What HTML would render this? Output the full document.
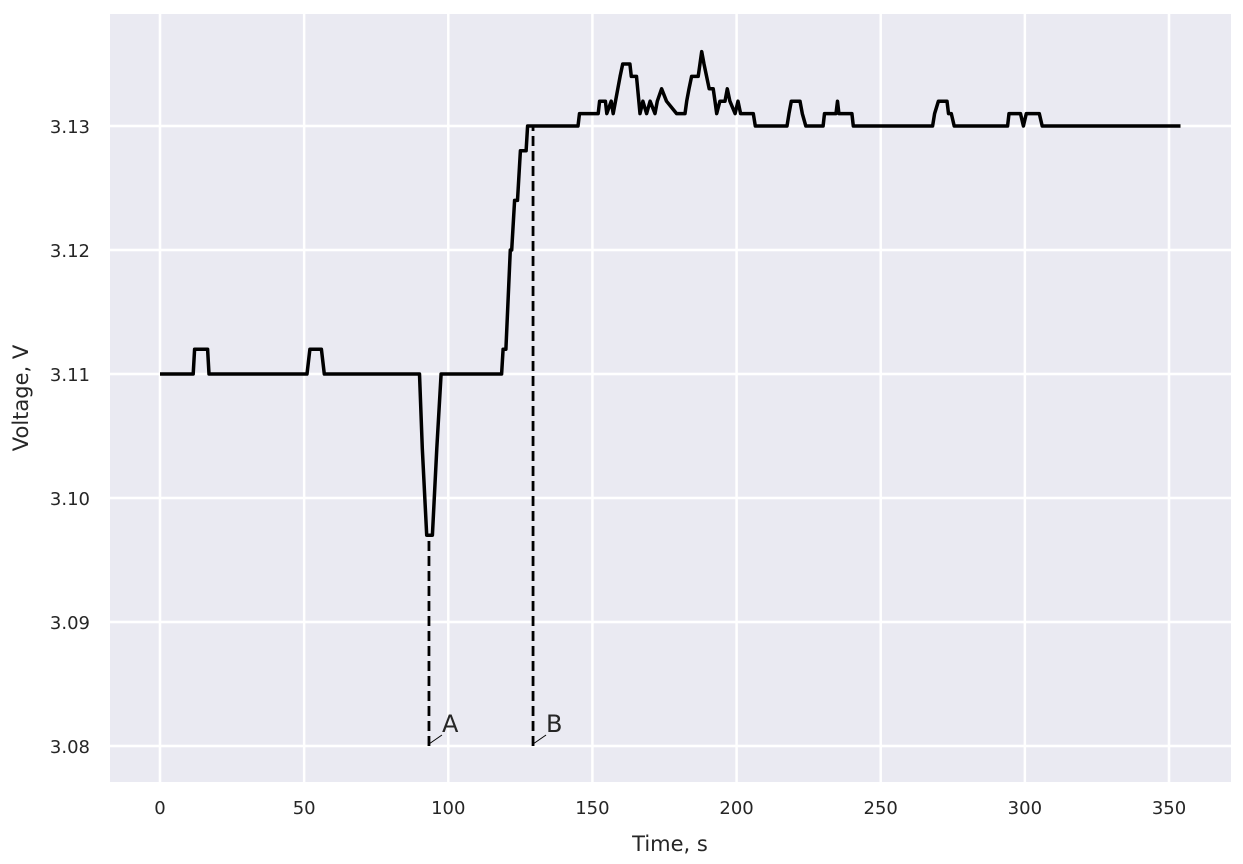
<!DOCTYPE html>
<html><head><meta charset="utf-8"><style>
html,body{margin:0;padding:0;background:#fff;}
svg text{font-family:"DejaVu Sans","Liberation Sans",sans-serif;fill:#262626;}
</style></head><body>
<svg id="chart" width="1243" height="859" viewBox="0 0 1243 859" xmlns="http://www.w3.org/2000/svg">
<rect x="110" y="14" width="1121" height="768" fill="#eaeaf2"/>
<g id="grid"></g>
<g id="marks"></g>
<g id="ticks"></g>
<text x="670" y="851" font-size="21" text-anchor="middle">Time, s</text>
<text transform="translate(28,398) rotate(-90)" font-size="21" text-anchor="middle">Voltage, V</text>
</svg>
<script>
const times = [0,11.5,12,16.5,17,51,52,56,57,90,
 91,92.5,94.5,96,97.5,118.5,119,120,121.5,122,
 123,124,125,127,127.5,145,145.5,152,152.5,154.5,
 155,156.5,157.2,158,159.6,160.5,163,163.5,165.3,166.5,
 167.5,168.8,170,171.7,172.5,174,175.7,179.2,182.1,182.7,
 183.5,184.4,186.7,187.9,188.7,189.6,190.5,191.9,192.5,193.1,
 194.2,196,196.8,197.7,199.5,200.5,201.4,205.8,206.5,217.5,
 218.2,219,222,222.8,224,230,230.5,234.5,235,235.5,
 240,240.5,268,268.7,270,273,273.5,274.5,275.5,294,
 294.5,298.5,299.5,300.5,305,306,354];
const volts = [3.110,3.110,3.112,3.112,3.110,3.110,3.112,3.112,3.110,3.110,
 3.104,3.097,3.097,3.104,3.110,3.110,3.112,3.112,3.120,3.120,
 3.124,3.124,3.128,3.128,3.130,3.130,3.131,3.131,3.132,3.132,
 3.131,3.132,3.131,3.132,3.134,3.135,3.135,3.134,3.134,3.131,
 3.132,3.131,3.132,3.131,3.132,3.133,3.132,3.131,3.131,3.132,
 3.133,3.134,3.134,3.136,3.135,3.134,3.133,3.133,3.132,3.131,
 3.132,3.132,3.133,3.132,3.131,3.132,3.131,3.131,3.130,3.130,
 3.131,3.132,3.132,3.131,3.130,3.130,3.131,3.131,3.132,3.131,
 3.131,3.130,3.130,3.131,3.132,3.132,3.131,3.131,3.130,3.130,
 3.131,3.131,3.130,3.131,3.131,3.130,3.130];
const xTicks = [0,50,100,150,200,250,300,350];
const yTicks = [3.08,3.09,3.10,3.11,3.12,3.13];
const markerTimes = [93.3,129.4];
const markerVolts = [3.097,3.130];
const markerLabels = ["A","B"];

const NS="http://www.w3.org/2000/svg";
function X(t){return 160+(t-0)*(1169-160)/350;}
function Y(v){return 746-(v-3.08)*(746-126)/0.05;}
function el(tag,attrs,parent){const e=document.createElementNS(NS,tag);for(const k in attrs)e.setAttribute(k,attrs[k]);parent.appendChild(e);return e;}
const grid=document.getElementById('grid'),marks=document.getElementById('marks'),ticks=document.getElementById('ticks');
xTicks.forEach(t=>{
  const l=el('line',{x1:X(t),x2:X(t),y1:14,y2:782,stroke:'#fff','stroke-width':2.5},grid);
  
  
  const tx=el('text',{x:X(t),y:814,'font-size':18,'text-anchor':'middle'},ticks);
  tx.textContent=String(t);
  
  
});
yTicks.forEach(v=>{
  const l=el('line',{x1:110,x2:1231,y1:Y(v),y2:Y(v),stroke:'#fff','stroke-width':2.5},grid);
  
  
  const tx=el('text',{x:90,y:Y(v)+7,'font-size':18,'text-anchor':'end'},ticks);
  tx.textContent=v.toFixed(2);
  
  
});
const n=Math.min(times.length,volts.length);
const pts=times.slice(0,n).map((t,i)=>X(t).toFixed(1)+','+Y(volts[i]).toFixed(1)).join(' ');
const line=el('polyline',{points:pts,fill:'none',stroke:'#000','stroke-width':3.5,'stroke-linejoin':'round'},marks);


markerTimes.forEach((t,i)=>{
  const d=el('line',{x1:X(t),x2:X(t),y1:Y(3.08),y2:Y(markerVolts[i]),stroke:'#000','stroke-width':2.8,'stroke-dasharray':'10,5'},marks);
  
  
  const a=el('line',{x1:X(t),y1:Y(3.08)-2,x2:X(t)+13,y2:Y(3.08)-11,stroke:'#000','stroke-width':1},marks);
  
  
  const tx=el('text',{x:X(t)+13,y:Y(3.08)-14,'font-size':24},marks);
  tx.textContent=markerLabels[i];
  
  
});
</script>
</body></html>
